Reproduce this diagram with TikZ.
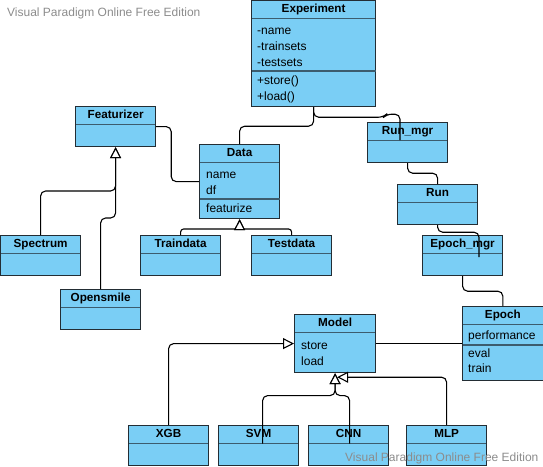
\documentclass[tikz,border=0pt]{standalone}
\usepackage{fontspec}
\setmainfont{Liberation Sans}
\usepackage{tikz}
\usetikzlibrary{arrows.meta}
\usetikzlibrary{positioning}
\definecolor{umlfill}{RGB}{122,206,245}
\definecolor{umlline}{RGB}{35,45,52}
\definecolor{umlrule}{RGB}{60,92,110}
\definecolor{wmgray}{RGB}{140,140,140}
\tikzset{
  umlclass/.style = {rectangle, draw=umlline, fill=umlfill, line width=1.2pt,
    anchor=north west, inner sep=0pt, minimum width=80pt, minimum height=40pt,
    path picture={\draw[umlsep] ([yshift=-18pt]path picture bounding box.north west)
      -- ([yshift=-18pt]path picture bounding box.north east);}},% classe, entete
  umlhead/.style = {font=\bfseries\fontsize{11.7}{13}\selectfont, anchor=base, inner sep=0pt},
  umlattr/.style = {font=\fontsize{12}{14}\selectfont, anchor=base west, inner sep=0pt},
  umlsep/.style = {draw=umlrule, line width=1.6pt},% separateur
  assoc/.style = {draw=black, line width=1.1pt, rounded corners=5pt},
  inherit/.style = {assoc, -{Triangle[open, fill=white, length=11pt, width=11pt]}},% heritage
  watermark/.style = {font=\fontsize{12}{14}\selectfont, text=wmgray, anchor=base west, inner sep=0pt}
}

\begin{document}
\begin{tikzpicture}[x=1pt, y=-1pt]
\useasboundingbox (0,0) rectangle (543,466);
\node[watermark] (wm1) at (7,16) {Visual Paradigm Online Free Edition};

% classes
\node[umlclass, minimum width=124pt, minimum height=106pt] (exp) at (251,0) {};
\node[umlclass, minimum height=40pt] (feat) at (75,106) {};
\node[umlclass, minimum height=74pt] (data) at (199,144) {};
\node[umlclass] (rmgr) at (367,122) {};
\node[umlclass] (run) at (397,184) {};
\node[umlclass] (emgr) at (422,235) {};
\node[umlclass, minimum width=80.5pt, minimum height=74pt] (epoch) at (462,306) {};
\node[umlclass] (spec) at (0,235) {};
\node[umlclass] (opens) at (60,289) {};
\node[umlclass] (train) at (140,235) {};
\node[umlclass] (test) at (251,235) {};
\node[umlclass, minimum width=81pt, minimum height=58pt] (model) at (294,314) {};
\node[umlclass] (xgb) at (128,425) {};
\node[umlclass] (svm) at (218,425) {};
\node[umlclass] (cnn) at (308,425) {};
\node[umlclass] (mlp) at (406,425) {};

% titres
\node[umlhead] (exp-t) at ([yshift=-12pt]exp.north) {Experiment};
\node[umlhead] (feat-t) at ([yshift=-12pt]feat.north) {Featurizer};
\node[umlhead] (data-t) at ([yshift=-12pt]data.north) {Data};
\node[umlhead] (rmgr-t) at ([yshift=-12pt]rmgr.north) {Run\_mgr};
\node[umlhead] (run-t) at ([yshift=-12pt]run.north) {Run};
\node[umlhead] (emgr-t) at ([yshift=-12pt]emgr.north) {Epoch\_mgr};
\node[umlhead] (epoch-t) at ([yshift=-12pt]epoch.north) {Epoch};
\node[umlhead] (spec-t) at ([yshift=-12pt]spec.north) {Spectrum};
\node[umlhead] (opens-t) at ([yshift=-12pt]opens.north) {Opensmile};
\node[umlhead] (train-t) at ([yshift=-12pt]train.north) {Traindata};
\node[umlhead] (test-t) at ([yshift=-12pt]test.north) {Testdata};
\node[umlhead] (model-t) at ([yshift=-12pt]model.north) {Model};
\node[umlhead] (xgb-t) at ([yshift=-12pt]xgb.north) {XGB};
\node[umlhead] (svm-t) at ([yshift=-12pt]svm.north) {SVM};
\node[umlhead] (cnn-t) at ([yshift=-12pt]cnn.north) {CNN};
\node[umlhead] (mlp-t) at ([yshift=-12pt]mlp.north) {MLP};

% attributs et methodes
\draw[umlsep] ([xshift=0.6pt,yshift=-71pt]exp.north west) -- ([xshift=-0.6pt,yshift=-71pt]exp.north east);
\node[umlattr] (exp-a1) at ([xshift=6pt,yshift=-34pt]exp.north west) {-name};
\node[umlattr] (exp-a2) at ([xshift=6pt,yshift=-50pt]exp.north west) {-trainsets};
\node[umlattr] (exp-a3) at ([xshift=6pt,yshift=-66pt]exp.north west) {-testsets};
\node[umlattr] (exp-m1) at ([xshift=6pt,yshift=-84pt]exp.north west) {+store()};
\node[umlattr] (exp-m2) at ([xshift=6pt,yshift=-100pt]exp.north west) {+load()};

\draw[umlsep] ([xshift=0.6pt,yshift=-55pt]data.north west) -- ([xshift=-0.6pt,yshift=-55pt]data.north east);
\node[umlattr] (data-a1) at ([xshift=7pt,yshift=-34pt]data.north west) {name};
\node[umlattr] (data-a2) at ([xshift=7pt,yshift=-50pt]data.north west) {df};
\node[umlattr] (data-m1) at ([xshift=7pt,yshift=-68pt]data.north west) {featurize};

\node[umlattr] (model-m1) at ([xshift=7pt,yshift=-35pt]model.north west) {store};
\node[umlattr] (model-m2) at ([xshift=7pt,yshift=-51pt]model.north west) {load};

\draw[umlsep] ([xshift=0.6pt,yshift=-39pt]epoch.north west) -- ([xshift=-0.6pt,yshift=-39pt]epoch.north east);
\node[umlattr] (epoch-a1) at ([xshift=6pt,yshift=-33pt]epoch.north west) {performance};
\node[umlattr] (epoch-m1) at ([xshift=6pt,yshift=-51pt]epoch.north west) {eval};
\node[umlattr] (epoch-m2) at ([xshift=6pt,yshift=-66pt]epoch.north west) {train};

% liens
\coordinate (rmgr-in) at ([xshift=33pt,yshift=-18pt]rmgr.north west);
\coordinate (emgr-in) at ([xshift=57pt,yshift=-22pt]emgr.north west);
\draw[assoc] (exp.south) -- ++(0,19) -| (data.north);
\draw[assoc] (exp.south) -- ++(0,10) -- ++(70,0) -- ++(3,-3) -| (rmgr-in);
\draw[assoc] (feat.east) -- ++(15,0) |- (data.west);
\draw[assoc] (rmgr.south) -- ++(0,10) -| (run.north);
\draw[assoc] (run.south) -- ++(0,7) -| (emgr-in);
\draw[assoc] (emgr.south) -- ++(0,15) -| (epoch.north);
\draw[assoc] (model.east) -- (epoch.west);

\draw[inherit] (spec.north) -- ++(0,-44) -| (feat.south);
\draw[inherit] (opens.north) -- ++(0,-71) -| (feat.south);
\draw[inherit, rounded corners=3pt] (train.north) -- ++(0,-6) -| (data.south);
\draw[inherit, rounded corners=3pt] (test.north) -- ++(0,-6) -| (data.south);
\draw[inherit] (xgb.north) |- (model.west);
\draw[inherit] ([xshift=4pt,yshift=2pt]svm.center) -- ++(0,-48) -| (model.south);
\draw[inherit] ([xshift=1pt,yshift=2pt]cnn.center) -- ++(0,-48) -| (model.south);
\draw[inherit] (mlp.north) |- ([xshift=2pt,yshift=-4pt]model.south);

\node[watermark] (wm2) at (345,461) {Visual Paradigm Online Free Edition};
\end{tikzpicture}
\end{document}
